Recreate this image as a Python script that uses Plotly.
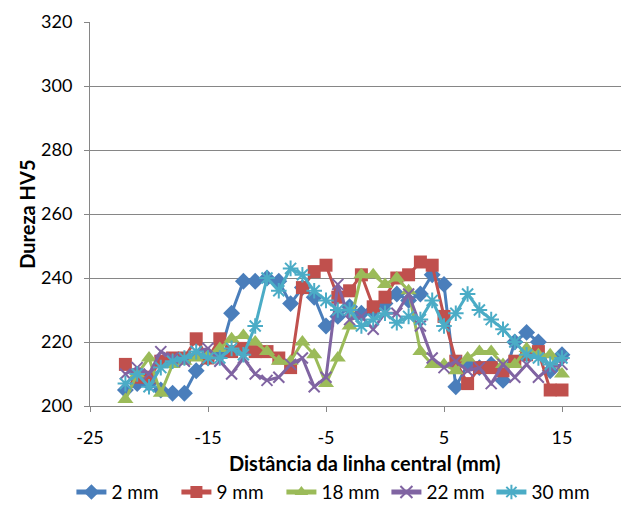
import plotly.graph_objects as go

x = list(range(-22, 16))

s2 = [205, 207, 207, 205, 204, 204, 211, 215, 216, 229, 239, 239, 240, 239, 232, 237, 234, 225,
      228, 231, 229, 230, 232, 235, 233, 235, 241, 238, 206, 213, 212, 213, 208, 220, 223, 220, 211, 216]
s9 = [213, 209, 209, 214, 215, 215, 221, 215, 221, 217, 218, 217, 217, 215, 212, 237, 242, 244,
      234, 236, 241, 231, 234, 240, 241, 245, 244, 228, 214, 207, 212, 212, 211, 214, 216, 217, 205, 205]
s18 = [202, 210, 215, 204, 213, 214, 215, 216, 218, 221, 222, 220, 217, 214, 214, 220, 216, 207,
       215, 225, 241, 241, 238, 240, 236, 217, 213, 213, 211, 215, 217, 217, 213, 213, 218, 216, 216, 210]
s22 = [210, 212, 210, 217, 215, 214, 217, 218, 214, 210, 215, 210, 208, 209, 213, 215, 206, 209,
       238, 227, 228, 224, 229, 229, 235, 225, 215, 212, 214, 211, 212, 207, 213, 209, 213, 209, 212, 213]
s30 = [207, 210, 206, 212, 214, 215, 217, 215, 215, 218, 216, 225, 240, 236, 243, 241, 236, 233,
       230, 230, 225, 227, 229, 226, 228, 227, 233, 225, 229, 235, 230, 227, 224, 220, 216, 215, 213, 215]

names = ["2 mm", "9 mm", "18 mm", "22 mm", "30 mm"]
colors = ["#4A7EBB", "#C0504D", "#9BBB59", "#8064A2", "#4BACC6"]
series = [s2, s9, s18, s22, s30]

x_tickvals = [-25, -15, -5, 5, 15]
x_ticktext = ["-25", "-15", "-5", "5", "15"]
y_tickvals = [200, 220, 240, 260, 280, 300, 320]
x_title = "Distância da linha central (mm)"
y_title = "Dureza HV5"

fig = go.Figure()
marker_specs = [
    dict(symbol="diamond", size=13),
    dict(symbol="square", size=13),
    dict(symbol="triangle-up", size=14),
    dict(symbol="x-thin-open", size=11),
    dict(symbol="asterisk-open", size=13),
]
for name, col, ys, ms in zip(names, colors, series, marker_specs):
    m = dict(ms, color=col)
    if ms["symbol"].endswith("open"):
        m["line"] = dict(color=col, width=2)
    else:
        m["line"] = dict(width=0)
    fig.add_trace(go.Scatter(x=x, y=ys, mode="lines+markers", name=name,
                             line=dict(color=col, width=3), marker=m))

font_family = "Lato, 'Open Sans', sans-serif"
fig.update_layout(
    width=621, height=510,
    margin=dict(l=90, r=0, t=22, b=104),
    paper_bgcolor="white", plot_bgcolor="white",
    font=dict(family=font_family, size=18, color="#000000"),
    showlegend=True,
    legend=dict(orientation="h", xref="container", yref="container",
                x=0.115, xanchor="left", y=0.035, yanchor="middle",
                entrywidth=60, entrywidthmode="pixels",
                font=dict(size=19), itemsizing="constant", tracegroupgap=0),
    xaxis=dict(range=[-25, 20], tickvals=x_tickvals, ticktext=x_ticktext,
               showgrid=False, zeroline=False, showline=True, linecolor="#868686",
               linewidth=1, ticks="outside", ticklen=5, tickcolor="#868686",
               ticklabelstandoff=10, automargin=False),
    yaxis=dict(range=[200, 320], tickvals=y_tickvals,
               showgrid=True, gridcolor="#868686", gridwidth=1, zeroline=False,
               showline=True, linecolor="#868686", linewidth=1,
               ticks="outside", ticklen=5, tickcolor="#868686",
               ticklabelstandoff=8, automargin=False),
    annotations=[
        dict(text="<b>" + x_title + "</b>", xref="paper", yref="paper",
             x=0.518, y=-0.148, xanchor="center", yanchor="middle",
             showarrow=False, font=dict(size=20)),
        dict(text="<b>" + y_title + "</b>", xref="paper", yref="paper",
             x=-0.119, y=0.5, xanchor="center", yanchor="middle", textangle=-90,
             showarrow=False, font=dict(size=20)),
    ],
)

fig.write_html("out.html")
